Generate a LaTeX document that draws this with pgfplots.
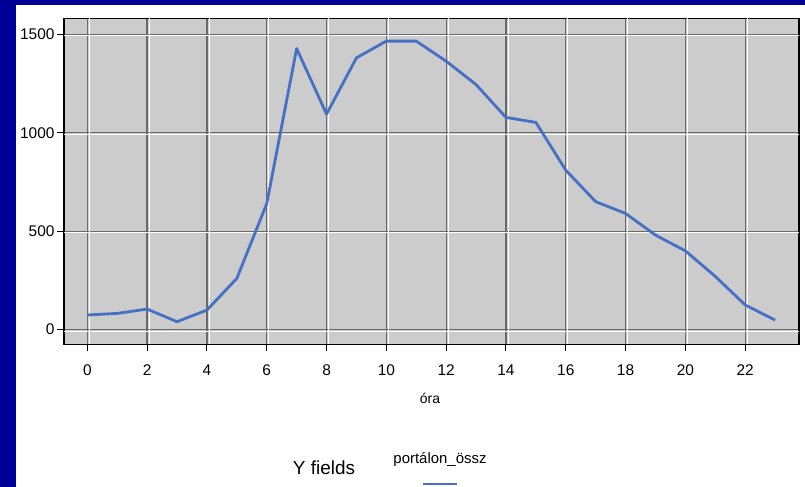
\documentclass[border=0pt]{standalone}
\usepackage{fontspec}
\setmainfont{Liberation Sans}
\usepackage{pgfplots}
\pgfplotsset{compat=1.18}

\definecolor{frameblue}{RGB}{0,0,153}
\definecolor{plotbg}{RGB}{204,204,204}
\definecolor{gridgray}{RGB}{105,105,105}
\definecolor{lineblue}{RGB}{70,112,196}

\begin{document}
\begin{tikzpicture}[x=1bp,y=1bp]
	% page background
	\fill[frameblue] (0,0) rectangle (805,487);
	\fill[white] (16,0) rectangle (805,482);

	\begin{axis}[
			at            = {(64bp,142.5bp)},
			anchor        = south west,
			scale only axis,
			width         = 735bp,
			height        = 326bp,
			xmin          = -0.78,
			xmax          = 23.8,
			ymin          = -76,
			ymax          = 1581,
			xtick         = {0,2,...,22},
			ytick         = {0,500,1000,1500},
			axis background/.style = {fill=plotbg},
			axis line style = {black, line width=1.3bp},
			tick align    = outside,
			xtick pos     = left,
			ytick pos     = left,
			major tick length = 7bp,
			tick style    = {black, line width=1bp},
			grid          = major,
			major grid style = {gridgray, line width=1.3bp},
			extra x ticks = {0.07,2.07,4.07,6.07,8.07,10.07,12.07,14.07,16.07,18.07,20.07,22.07},
			extra y ticks = {-8,492,992,1492},
			extra x tick labels = {},
			extra y tick labels = {},
			extra tick style = {major grid style={white, line width=1bp}, major tick length=0pt},
			/pgf/number format/assume math mode = true,
			/pgf/number format/set thousands separator = {},
			tick label style = {font=\fontsize{15.5}{17}\selectfont},
			xticklabel style = {yshift=-10bp},
			yticklabel style = {xshift=1bp},
		]

		\addplot[lineblue, line width=2.8bp, line join=round] coordinates {
			(0,74) (1,82) (2,104) (3,40) (4,99) (5,260) (6,640) (7,1428)
			(8,1095) (9,1381) (10,1466) (11,1466) (12,1364) (13,1245)
			(14,1078) (15,1053) (16,810) (17,650) (18,590) (19,480)
			(20,400) (21,270) (22,125) (23,48)
		};
	\end{axis}

	% axis title and legend
	\node[font=\fontsize{14}{16}\selectfont] at (430,89) {óra};
	\node[font=\fontsize{19}{21}\selectfont] at (324,19) {Y fields};
	\node[font=\fontsize{15}{17}\selectfont] at (440,27) {portálon\_össz};
	\draw[lineblue, line width=2.8bp] (423,3) -- (457,3);
\end{tikzpicture}
\end{document}
